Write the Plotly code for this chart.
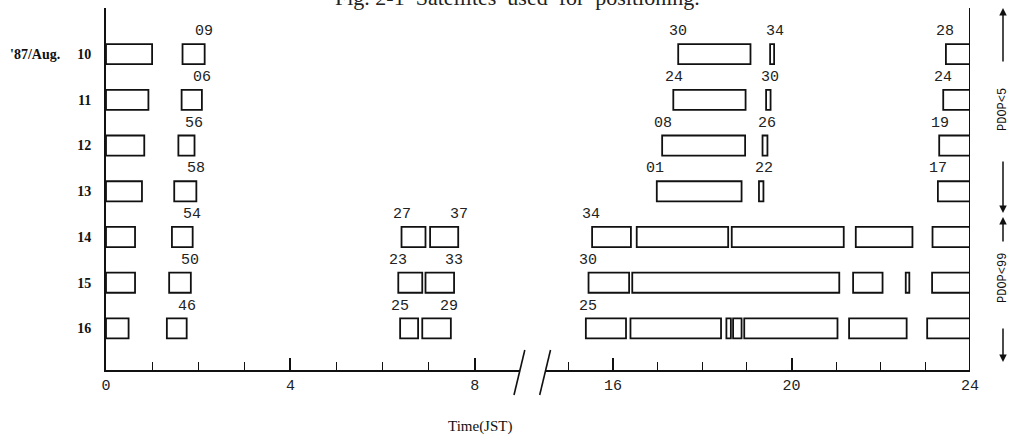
import plotly.graph_objects as go

# Observation days (August 1987)
days = [10, 11, 12, 13, 14, 15, 16]

# Tracking windows per day, (start, end) in hours JST
aug10 = [(0.00, 1.00), (1.66, 2.14), (17.46, 19.08), (19.52, 19.61), (23.46, 24.00)]
aug11 = [(0.00, 0.92), (1.64, 2.08), (17.35, 18.97), (19.43, 19.53), (23.40, 24.00)]
aug12 = [(0.00, 0.83), (1.57, 1.92), (17.10, 18.96), (19.35, 19.46), (23.31, 24.00)]
aug13 = [(0.00, 0.78), (1.48, 1.96), (16.98, 18.88), (19.27, 19.37), (23.28, 24.00)]
aug14 = [(0.00, 0.63), (1.43, 1.88), (6.41, 6.93), (7.03, 7.64), (15.53, 16.40),
         (16.53, 18.58), (18.66, 21.17), (21.44, 22.71), (23.16, 24.00)]
aug15 = [(0.00, 0.63), (1.37, 1.84), (6.34, 6.86), (6.93, 7.55), (15.45, 16.36),
         (16.43, 21.07), (21.38, 22.04), (22.56, 22.64), (23.15, 24.00)]
aug16 = [(0.00, 0.49), (1.32, 1.75), (6.38, 6.77), (6.86, 7.48), (15.39, 16.29),
         (16.39, 18.42), (18.54, 18.64), (18.69, 18.88), (18.94, 21.03),
         (21.29, 22.58), (23.04, 24.00)]

# Satellite-set labels per day: (label, hour)
aug10_sets = [("09", 2.13), ("30", 17.46), ("34", 19.63), ("28", 23.44)]
aug11_sets = [("06", 2.09), ("24", 17.36), ("30", 19.52), ("24", 23.40)]
aug12_sets = [("56", 1.91), ("08", 17.11), ("26", 19.44), ("19", 23.33)]
aug13_sets = [("58", 1.95), ("01", 16.94), ("22", 19.38), ("17", 23.28)]
aug14_sets = [("54", 1.87), ("27", 6.41), ("37", 7.66), ("34", 15.50)]
aug15_sets = [("50", 1.82), ("23", 6.34), ("33", 7.55), ("30", 15.44)]
aug16_sets = [("46", 1.75), ("25", 6.38), ("29", 7.44), ("25", 15.44)]

x_ticks_left = [0, 4, 8]
x_ticks_right = [16, 20, 24]

spans = [aug10, aug11, aug12, aug13, aug14, aug15, aug16]
sets = [aug10_sets, aug11_sets, aug12_sets, aug13_sets, aug14_sets, aug15_sets, aug16_sets]

W, H = 1010, 438
ML, MR, MT, MB = 106, 40, 8, 68
PW, PH = W - ML - MR, H - MT - MB

LEFT_MAX = 8.98     # left part of the broken time axis
RIGHT_MIN = 14.49   # right part of the broken time axis
d1 = 414 / PW
d2 = 439.7 / PW

MONO = "Liberation Mono"
SERIF = "Liberation Serif"

fig = go.Figure()

# Split windows between the morning (x) and afternoon/evening (x2) axis parts
for part, axis in (("left", "x"), ("right", "x2")):
    ys, bases, lens = [], [], []
    for day, day_spans in zip(days, spans):
        for s, e in day_spans:
            if (s < 12) == (part == "left"):
                ys.append(day)
                bases.append(s)
                lens.append(e - s)
    fig.add_trace(go.Bar(
        orientation="h", y=ys, x=lens, base=bases, width=0.44,
        marker=dict(color="white", line=dict(color="#111", width=1.8)),
        xaxis=axis, yaxis="y", hoverinfo="skip", showlegend=False,
    ))

annotations = []
for day, day_sets in zip(days, sets):
    for label, hr in day_sets:
        annotations.append(dict(
            text=label, x=hr, y=day - 0.49,
            xref="x" if hr < 12 else "x2", yref="y",
            showarrow=False, xanchor="center", yanchor="middle",
            font=dict(family=MONO, size=15, color="#222"),
        ))

# Date prefix next to the first row
annotations.append(dict(
    text="'87/Aug.", x=-98 / PW, y=10, xref="paper", yref="y",
    xanchor="left", yanchor="middle", showarrow=False,
    font=dict(family=SERIF, size=14, color="#111", weight="bold"),
))

# Axis title
annotations.append(dict(
    text="Time(JST)", x=(480 - ML) / PW, y=1 - (426 - MT) / PH,
    xref="paper", yref="paper", showarrow=False,
    xanchor="center", yanchor="middle",
    font=dict(family=SERIF, size=15, color="#111"),
))

# Figure caption along the top edge
nb = "\u00a0"
annotations.append(dict(
    text=f"Fig.{nb}2-1{nb}{nb}Satellites{nb}{nb}used{nb}{nb}for{nb}{nb}positioning.",
    x=(517 - ML) / PW, y=1 - (-2 - MT) / PH,
    xref="paper", yref="paper", showarrow=False,
    xanchor="center", yanchor="middle",
    font=dict(family=SERIF, size=22, color="#222"),
))

# PDOP range brackets on the right
ax_x = (1003 - ML) / PW
def py(v):
    return 1 - (v - MT) / PH

for head, tail in ((8, 63), (213, 160), (217, 243), (362, 327)):
    annotations.append(dict(
        text="", x=ax_x, y=py(head), xref="paper", yref="paper",
        showarrow=True, ax=0, ay=tail - head, arrowhead=2, arrowsize=1,
        arrowwidth=1.5, arrowcolor="#111", standoff=0,
    ))
for txt, yc in (("PDOP&lt;5", 110), ("PDOP&lt;99", 278)):
    annotations.append(dict(
        text=txt, x=(1003 - ML) / PW, y=py(yc), xref="paper", yref="paper",
        showarrow=False, textangle=-90, xanchor="center", yanchor="middle",
        font=dict(family=MONO, size=12, color="#111"),
    ))

shapes = [
    # right-hand frame line at 24h
    dict(type="line", xref="x2", yref="paper", x0=24, x1=24, y0=0, y1=1,
         line=dict(color="#111", width=2)),
]
# axis break marks
for d in (d1, d2):
    shapes.append(dict(type="line", xref="paper", yref="paper",
                       x0=d + 4.8 / PW, y0=20 / PH, x1=d - 6 / PW, y1=-25 / PH,
                       line=dict(color="#111", width=1.6)))

axis_common = dict(
    showline=True, linecolor="#111", linewidth=1.8,
    ticks="inside", ticklen=12, tickwidth=1.5, tickcolor="#111",
    tick0=0, dtick=4,
    minor=dict(dtick=1, ticks="inside", ticklen=8, tickwidth=1.3, tickcolor="#111"),
    showgrid=False, zeroline=False, anchor="y",
    tickfont=dict(family=MONO, size=15, color="#222"),
)

fig.update_layout(
    width=W, height=H,
    margin=dict(l=ML, r=MR, t=MT, b=MB),
    paper_bgcolor="white", plot_bgcolor="white",
    barmode="overlay",
    xaxis=dict(domain=[0, d1], range=[0, LEFT_MAX], tickvals=x_ticks_left,
               **axis_common),
    xaxis2=dict(domain=[d2, 1], range=[RIGHT_MIN, 24], tickvals=x_ticks_right,
                **axis_common),
    yaxis=dict(range=[16.91, 8.99], showline=True, linecolor="#111", linewidth=2,
               tickvals=days, ticktext=[str(d) for d in days], ticks="",
               ticklabelstandoff=10, showgrid=False, zeroline=False,
               tickfont=dict(family=SERIF, size=14, color="#111", weight="bold")),
    annotations=annotations,
    shapes=shapes,
)

fig.write_html("out.html")
